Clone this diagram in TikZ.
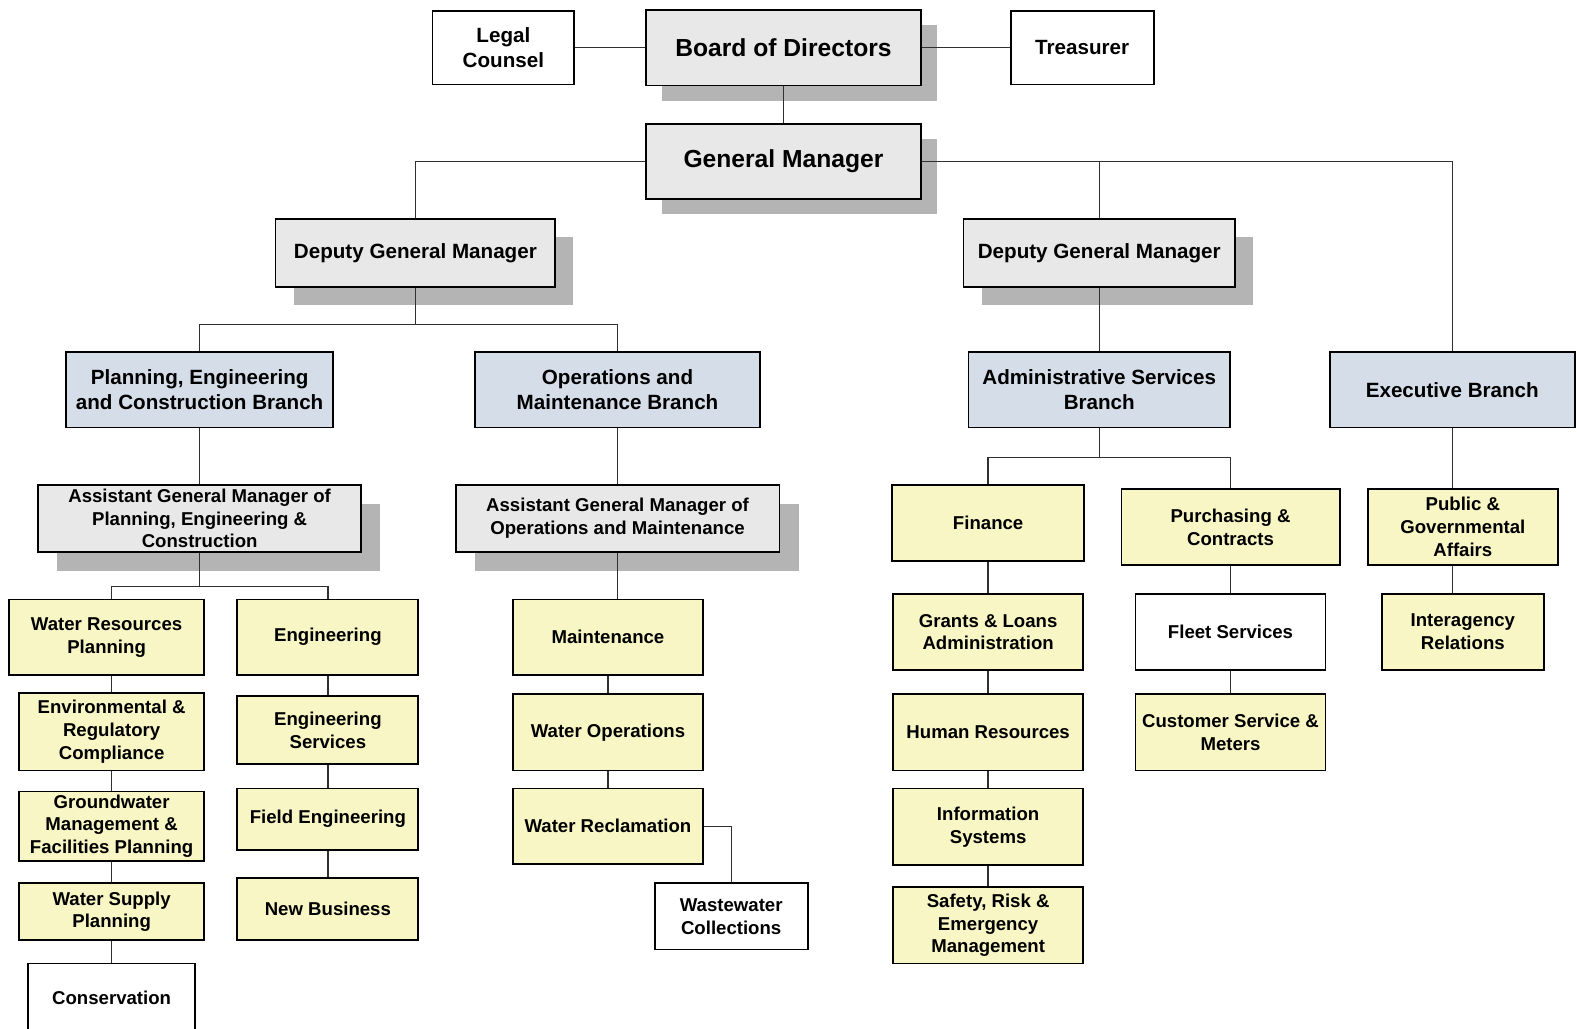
\documentclass[tikz,border=0pt]{standalone}
\usepackage{fontspec}
\setmainfont{Liberation Sans}
\usetikzlibrary{shadows}
\definecolor{gfill}{HTML}{E8E8E8}
\definecolor{shgray}{HTML}{B4B4B4}
\definecolor{bfill}{HTML}{D5DDE8}
\definecolor{yfill}{HTML}{F8F6C4}
\definecolor{lnk}{HTML}{303030}
\newcommand\orgbox[7]{%
  \node[#6, minimum width={#4pt-#2pt}, minimum height={#5pt-#3pt}] (#1) at ({(#2+#4)/2},{(#3+#5)/2}) {#7};}
\tikzset{
  base/.style={draw=black, line width=1.8pt, inner sep=0pt, align=center},
  topbox/.style={base, fill=white, font={\fontsize{20.5}{25}\selectfont\bfseries}},
  bigbox/.style={base, fill=gfill, font={\fontsize{24.5}{28}\selectfont\bfseries},
    drop shadow={shadow xshift=16pt, shadow yshift=-15pt, fill=shgray, opacity=1}},
  dgmbox/.style={base, fill=gfill, font={\fontsize{20.5}{25}\selectfont\bfseries},
    drop shadow={shadow xshift=18pt, shadow yshift=-18pt, fill=shgray, opacity=1}},
  branchbox/.style={base, fill=bfill, font={\fontsize{20.5}{25}\selectfont\bfseries}},
  agmbox/.style={base, fill=gfill, font={\fontsize{18.5}{22.5}\selectfont\bfseries},
    drop shadow={shadow xshift=19pt, shadow yshift=-19pt, fill=shgray, opacity=1}},
  unitbox/.style={base, fill=yfill, font={\fontsize{18.5}{22.8}\selectfont\bfseries}},
  wunitbox/.style={base, fill=white, font={\fontsize{18.5}{22.8}\selectfont\bfseries}},
  conn/.style={draw=lnk, line width=1.3pt}
}
\begin{document}
\begin{tikzpicture}[x=1pt,y=-1pt]
\useasboundingbox[fill=white] (0,0) rectangle (1568,1023);
% top
\orgbox{legal}{430}{11}{571}{84}{topbox}{Legal\\Counsel}
\orgbox{board}{642}{10}{916}{85}{bigbox}{Board of Directors}
\orgbox{treas}{1005}{11}{1147}{84}{topbox}{Treasurer}
\orgbox{gm}{642}{123}{916}{198}{bigbox}{General Manager}
\orgbox{dgma}{274}{218}{552}{285}{dgmbox}{Deputy General Manager}
\orgbox{dgmb}{958}{218}{1228}{285}{dgmbox}{Deputy General Manager}
% branches
\orgbox{pec}{66}{350}{331}{425}{branchbox}{Planning, Engineering\\and Construction Branch}
\orgbox{om}{472}{350}{756}{425}{branchbox}{Operations and\\Maintenance Branch}
\orgbox{admin}{963}{350}{1223}{425}{branchbox}{Administrative Services\\Branch}
\orgbox{exec}{1322}{350}{1566}{425}{branchbox}{Executive Branch}
% AGMs
\orgbox{agma}{38}{482}{359}{549}{agmbox}{Assistant General Manager of\\Planning, Engineering \&\\Construction}
\orgbox{agmb}{453}{482}{775}{549}{agmbox}{Assistant General Manager of\\Operations and Maintenance}
% planning units
\orgbox{wrp}{9}{596}{203}{671}{unitbox}{Water Resources\\Planning}
\orgbox{env}{19}{689}{203}{766}{unitbox}{Environmental \&\\Regulatory\\Compliance}
\orgbox{gw}{19}{787}{203}{856}{unitbox}{Groundwater\\Management \&\\Facilities Planning}
\orgbox{wsp}{19}{878}{203}{935}{unitbox}{Water Supply\\Planning}
\orgbox{cons}{28}{958}{194}{1027}{wunitbox}{Conservation}
\orgbox{eng}{236}{596}{416}{671}{unitbox}{Engineering}
\orgbox{engs}{236}{692}{416}{760}{unitbox}{Engineering\\Services}
\orgbox{feng}{236}{784}{416}{845}{unitbox}{Field Engineering}
\orgbox{nb}{236}{873}{416}{935}{unitbox}{New Business}
% operations units
\orgbox{maint}{510}{596}{699}{671}{unitbox}{Maintenance}
\orgbox{wops}{510}{690}{699}{766}{unitbox}{Water Operations}
\orgbox{wrec}{510}{784}{699}{859}{unitbox}{Water Reclamation}
\orgbox{wwc}{651}{878}{803}{944}{wunitbox}{Wastewater\\Collections}
% admin units
\orgbox{fin}{887}{482}{1078}{558}{unitbox}{Finance}
\orgbox{grants}{888}{591}{1077}{666}{unitbox}{Grants \& Loans\\Administration}
\orgbox{hr}{888}{690}{1077}{766}{unitbox}{Human Resources}
\orgbox{is}{888}{784}{1077}{860}{unitbox}{Information\\Systems}
\orgbox{safety}{888}{882}{1077}{958}{unitbox}{Safety, Risk \&\\Emergency\\Management}
\orgbox{pur}{1115}{486}{1332}{562}{unitbox}{Purchasing \&\\Contracts}
\orgbox{fleet}{1129}{591}{1318}{666}{wunitbox}{Fleet Services}
\orgbox{csm}{1129}{690}{1318}{766}{unitbox}{Customer Service \&\\Meters}
% executive units
\orgbox{pub}{1360}{486}{1549}{562}{unitbox}{Public \&\\Governmental\\Affairs}
\orgbox{inter}{1374}{591}{1535}{666}{unitbox}{Interagency\\Relations}
% connectors
\draw[conn] (legal.east) -- (board.west);
\draw[conn] (board.east) -- (treas.west);
\draw[conn] (board.south) -- (gm.north);
\draw[conn] (gm.west) -| (dgma.north);
\draw[conn] (gm.east) -| (exec.north);
\draw[conn] (dgmb.north) -- (dgmb.north |- gm.east);
\draw[conn] (dgma.south) -- ++(0,37) coordinate (dj);
\draw[conn] (pec.north) |- (dj) -| (om.north);
\draw[conn] (dgmb.south) -- (admin.north);
\draw[conn] (pec.south) -- (agma.north);
\draw[conn] (om.south) -- (agmb.north);
\draw[conn] (agma.south) -- ++(0,33) coordinate (pj);
\draw[conn] (env.north |- wrp.north) |- (pj) -| (eng.north);
\draw[conn] (env.north |- wrp.south) -- (env.north);
\draw[conn] (env.south) -- (gw.north);
\draw[conn] (gw.south) -- (wsp.north);
\draw[conn] (wsp.south) -- (cons.north);
\draw[conn] (eng.south) -- (engs.north);
\draw[conn] (engs.south) -- (feng.north);
\draw[conn] (feng.south) -- (nb.north);
\draw[conn] (agmb.south) -- (agmb.south |- maint.north);
\draw[conn] (maint.south) -- (wops.north);
\draw[conn] (wops.south) -- (wrec.north);
\draw[conn] (wrec.east) -| (wwc.north);
\draw[conn] (admin.south) -- ++(0,29) coordinate (aj);
\draw[conn] (fin.north) |- (aj) -| (pur.north);
\draw[conn] (fin.south) -- (grants.north);
\draw[conn] (grants.south) -- (hr.north);
\draw[conn] (hr.south) -- (is.north);
\draw[conn] (is.south) -- (safety.north);
\draw[conn] (pur.south) -- (fleet.north);
\draw[conn] (fleet.south) -- (csm.north);
\draw[conn] (exec.south) -- (exec.south |- pub.north);
\draw[conn] (exec.south |- pub.south) -- (exec.south |- inter.north);
\end{tikzpicture}
\end{document}
